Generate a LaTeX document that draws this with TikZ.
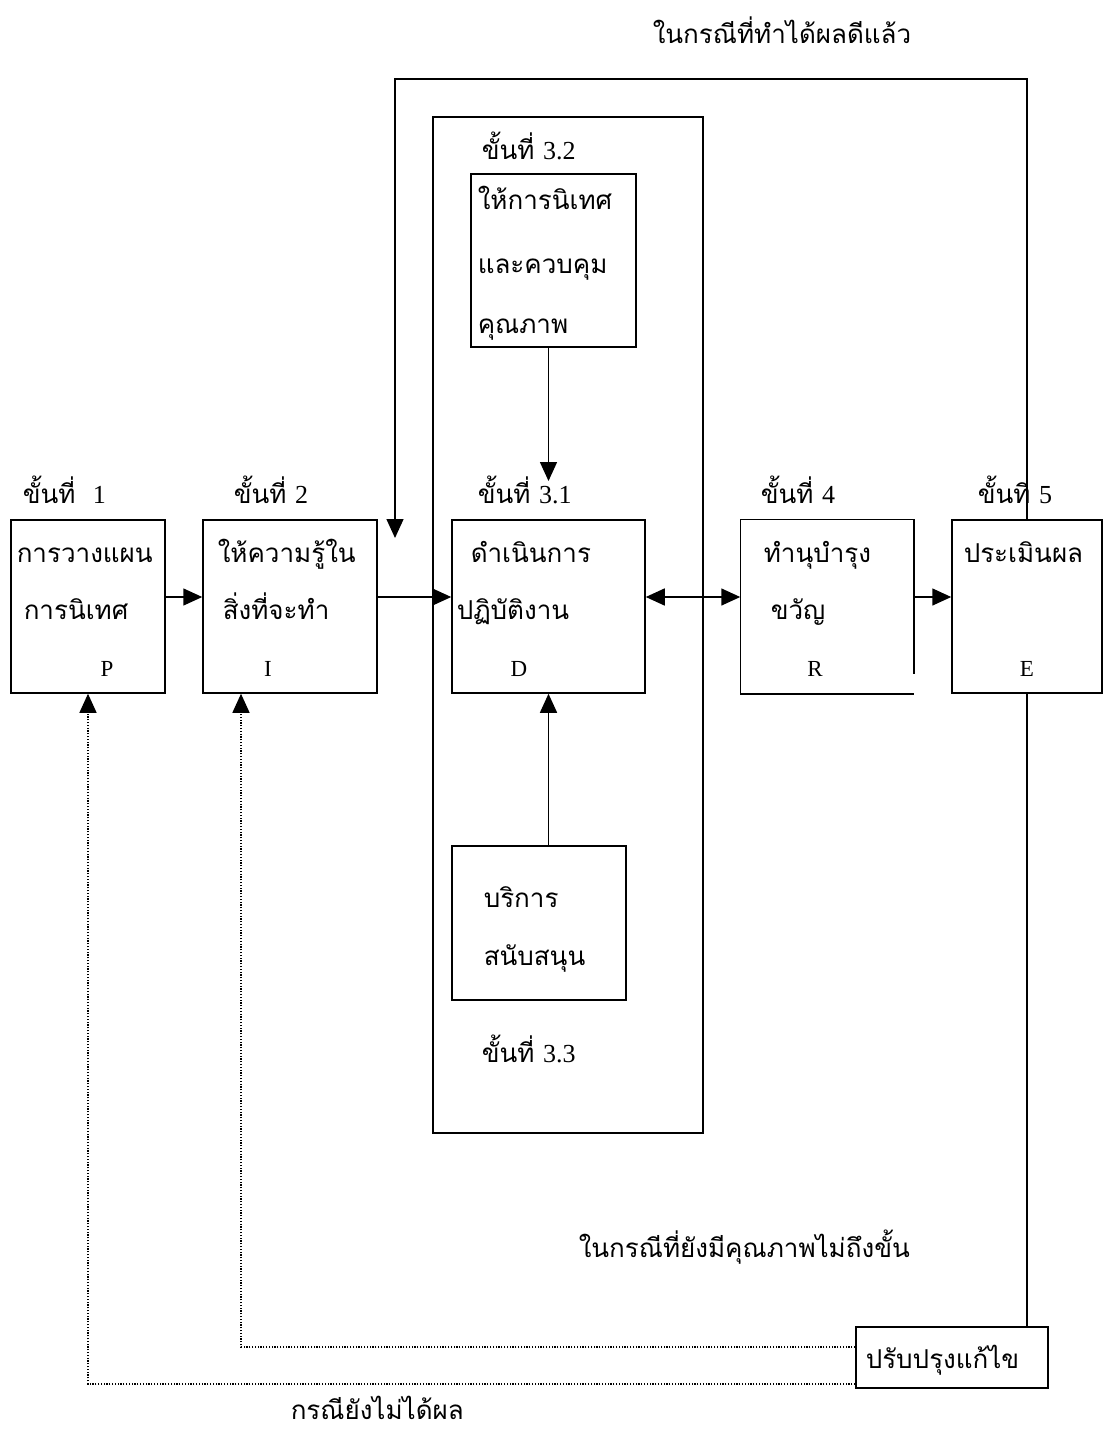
\documentclass[tikz,border=0pt]{standalone}
\usepackage{fontspec}
\setmainfont{Liberation Serif}
\newfontfamily\thai[Script=Thai]{Loma}
\usetikzlibrary{arrows.meta}
\newcommand\thaisize{\thai\fontsize{26}{30}\selectfont}
\newcommand\latsize{\rmfamily\fontsize{23}{27}\selectfont}

\begin{document}
\begin{tikzpicture}[x=1pt,y=1pt,line width=1.5pt,
        box/.style={draw,inner sep=0pt},
        th/.style={anchor=base west,inner sep=0pt,font=\thaisize},
        la/.style={anchor=base,inner sep=0pt,font=\latsize},
        arr/.style={-{Triangle[length=19pt,width=17pt]}},
        dbl/.style={{Triangle[length=19pt,width=17pt]}-{Triangle[length=19pt,width=17pt]}},
        fbdot/.style={line width=1.2pt,dash pattern=on 1.2pt off 1.6pt}]
        \useasboundingbox (0,0) rectangle (1103,-1431);
        % frames
        \node[box,minimum width=270,minimum height=1016] (cont) at (568,-625) {};
        \node[box,minimum width=154,minimum height=173] (P) at (88,-606.5) {};
        \node[box,minimum width=174,minimum height=173] (I) at (290,-606.5) {};
        \node[box,minimum width=193,minimum height=173] (D) at (548.5,-606.5) {};
        \node[inner sep=0pt,minimum width=172,minimum height=173] (R) at (827,-606.5) {};
        \draw ([yshift=20pt]R.south east) -- (R.north east) -- (R.north west) -- (R.south west) -- (R.south east);
        \node[box,minimum width=150,minimum height=173] (E) at (1027,-606.5) {};
        \node[box,minimum width=165,minimum height=173] (QC) at (553.5,-260.5) {};
        \node[box,minimum width=174,minimum height=154] (SV) at (539,-923) {};
        \node[box,minimum width=192,minimum height=61] (FX) at (952,-1357.5) {};
        % step labels
        \node[th] (s1) at (22,-503) {ขั้นที่\ \ {\rmfamily 1}};
        \node[th] (s2) at (233,-503) {ขั้นที่ {\rmfamily 2}};
        \node[th] (s31) at (477,-503) {ขั้นที่ {\rmfamily 3.1}};
        \node[th] (s4) at (760,-503) {ขั้นที่ {\rmfamily 4}};
        \node[th] (s5) at (977,-503) {ขั้นที่ {\rmfamily 5}};
        \node[th] (s32) at (481,-160) {ขั้นที่ {\rmfamily 3.2}};
        \node[th] (s33) at (481,-1062) {ขั้นที่ {\rmfamily 3.3}};
        % box texts
        \node[th] (p1) at (16,-562) {การวางแผน};
        \node[th] (p2) at (23,-619) {การนิเทศ};
        \node[la] (p3) at (107,-676) {P};
        \node[th] (i1) at (217,-562) {ให้ความรู้ใน};
        \node[th] (i2) at (222,-619) {สิ่งที่จะทำ};
        \node[la] (i3) at (268,-676) {I};
        \node[th] (d1) at (470,-562) {ดำเนินการ};
        \node[th] (d2) at (456,-619) {ปฏิบัติงาน};
        \node[la] (d3) at (519,-676) {D};
        \node[th] (r1) at (763,-562) {ทำนุบำรุง};
        \node[th] (r2) at (770,-619) {ขวัญ};
        \node[la] (r3) at (815,-676) {R};
        \node[th] (e1) at (963,-562) {ประเมินผล};
        \node[la] (e3) at (1027,-676) {E};
        \node[th] (q1) at (477,-210) {ให้การนิเทศ};
        \node[th] (q2) at (477,-273) {และควบคุม};
        \node[th] (q3) at (477,-333) {คุณภาพ};
        \node[th] (v1) at (483,-907) {บริการ};
        \node[th] (v2) at (483,-965) {สนับสนุน};
        \node[th] (f1) at (865,-1368) {ปรับปรุงแก้ไข};
        \node[th] (t1) at (652,-44) {ในกรณีที่ทำได้ผลดีแล้ว};
        \node[th] (t2) at (578,-1257) {ในกรณีที่ยังมีคุณภาพไม่ถึงขั้น};
        \node[th] (t3) at (290,-1419) {กรณียังไม่ได้ผล};
        % connectors
        \coordinate (row) at (0,-597);
        \draw[arr] (P.east |- row) -- (I.west |- row);
        \draw[arr] (I.east |- row) -- (D.west |- row);
        \draw[dbl] (D.east |- row) -- (R.west |- row);
        \draw[arr] (R.east |- row) -- (E.west |- row);
        \coordinate (qtip) at (548.5,-481);
        \draw[arr] (qtip |- QC.south) -- (qtip);
        \draw[arr] (D.south |- SV.north) -- (D.south);
        \coordinate (fbtop) at (395,-79);
        \coordinate (fbtip) at (395,-538);
        \draw[arr] (E.north) |- (fbtop) -- (fbtip);
        \draw (E.south) -- (E.south |- FX.north);
        \coordinate (iup) at (241,-1347);
        \coordinate (pup) at (88,-1384);
        \draw[fbdot,arr] (FX.west |- iup) -- (iup) -- (iup |- I.south);
        \draw[fbdot,arr] (FX.west |- pup) -- (pup) -- (P.south);
    \end{tikzpicture}
\end{document}
